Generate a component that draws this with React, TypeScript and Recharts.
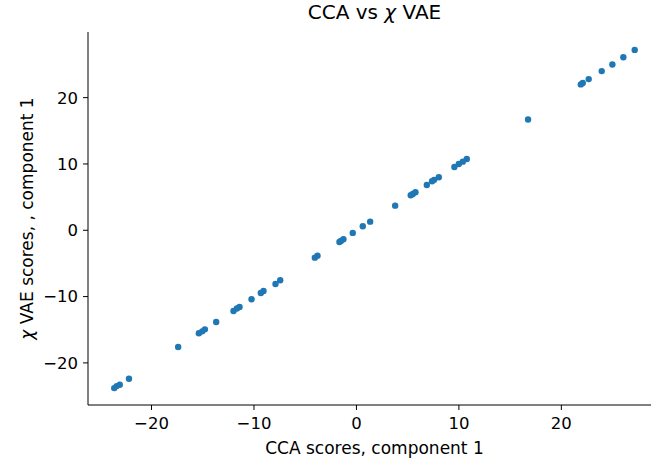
import { ScatterChart, Scatter, XAxis, YAxis, Label } from "recharts";

// CCA scores (x) and chi-VAE scores (y), component 1
const ccaScores = [
  27.16, 26.05, 24.98, 23.94, 22.67, 22.09, 21.9, 16.75, 10.77, 10.38, 9.99, 9.56,
  8.04, 7.58, 7.38, 6.87, 5.76, 5.5, 5.3, 3.78, 1.34, 0.62, -0.36, -1.27, -1.52,
  -1.66, -3.8, -4.06, -7.44, -7.9, -9.07, -9.33, -10.24, -11.41, -11.67, -12.0,
  -13.69, -14.79, -15.05, -15.38, -17.4, -22.2, -23.1, -23.4, -23.64,
];
const vaeScores = [
  27.2, 26.1, 25.0, 24.0, 22.8, 22.2, 22.0, 16.7, 10.75, 10.35, 10.0, 9.55,
  8.0, 7.6, 7.4, 6.83, 5.73, 5.47, 5.27, 3.71, 1.3, 0.6, -0.4, -1.36, -1.6,
  -1.76, -3.83, -4.13, -7.54, -8.1, -9.16, -9.46, -10.4, -11.57, -11.8, -12.17,
  -13.83, -14.94, -15.24, -15.54, -17.6, -22.4, -23.3, -23.5, -23.8,
];
const xTicks = [-20, -10, 0, 10, 20];
const yTicks = [-20, -10, 0, 10, 20];

const points = ccaScores.map((x, i) => ({ x, y: vaeScores[i] }));

const font = "'DejaVu Sans', sans-serif";
const fmt = (v: number) => (v < 0 ? "\u2212" + Math.abs(v) : String(v));

export default function App() {
  return (
    <div style={{ position: "absolute", left: 0, top: 0, width: 652, height: 462, background: "#fff" }}>
      <ScatterChart width={652} height={462} margin={{ top: 32, right: 1, bottom: 0, left: 0 }}>
        <XAxis
          xAxisId="top"
          orientation="top"
          dataKey="x"
          type="number"
          domain={[-26.2, 28.75]}
          tick={false}
          tickLine={false}
          height={0}
          axisLine={{ stroke: "#000", strokeWidth: 1 }}
        />
        <XAxis
          dataKey="x"
          type="number"
          domain={[-26.2, 28.75]}
          ticks={xTicks}
          tickFormatter={fmt}
          height={57}
          tickSize={5}
          tickMargin={7}
          axisLine={{ stroke: "#000", strokeWidth: 1 }}
          tickLine={{ stroke: "#000" }}
          tick={{ fill: "#000", fontSize: 16.5, fontFamily: font }}
        >
          <Label
            content={() => (
              <text x={374.5} y={454} textAnchor="middle" fontSize={17} fontFamily={font} fill="#000">
                CCA scores, component 1
              </text>
            )}
          />
        </XAxis>
        <YAxis
          dataKey="y"
          type="number"
          domain={[-26.35, 29.9]}
          ticks={yTicks}
          tickFormatter={fmt}
          width={88}
          tickSize={5}
          tickMargin={5}
          axisLine={{ stroke: "#000", strokeWidth: 1 }}
          tickLine={{ stroke: "#000" }}
          tick={{ fill: "#000", fontSize: 16.5, fontFamily: font }}
        >
          <Label
            content={() => (
              <text
                x={33}
                y={218.5}
                transform="rotate(-90 33 218.5)"
                textAnchor="middle"
                fontSize={17}
                fontFamily={font}
                fill="#000"
              >
                <tspan fontStyle="italic">χ</tspan> VAE scores, , component 1
              </text>
            )}
          />
        </YAxis>
        <Scatter
          data={points}
          fill="#1f77b4"
          isAnimationActive={false}
          shape={(p: any) => <circle cx={p.cx} cy={p.cy} r={3.2} fill="#1f77b4" />}
        />
      </ScatterChart>
      <div
        style={{
          position: "absolute",
          left: 274.5,
          width: 200,
          top: 0,
          height: 24,
          lineHeight: "24px",
          textAlign: "center",
          fontFamily: font,
          fontSize: 20,
          color: "#000",
          whiteSpace: "nowrap",
        }}
      >
        CCA vs <i>χ</i> VAE
      </div>
    </div>
  );
}
